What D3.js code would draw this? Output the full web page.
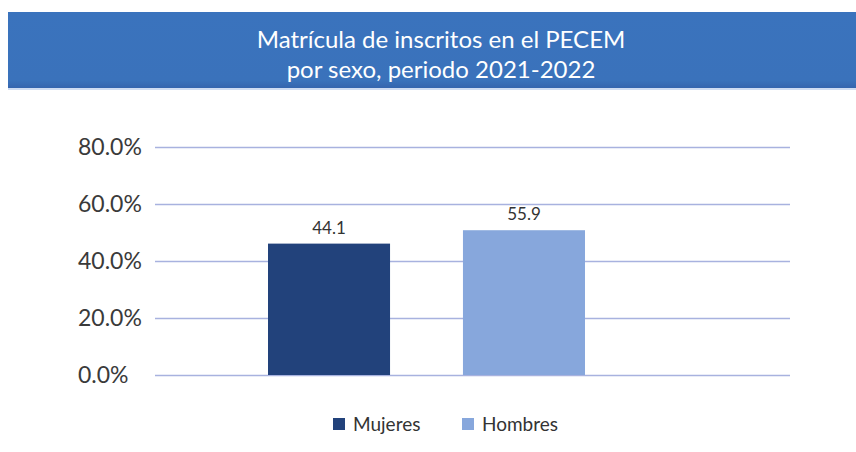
<!DOCTYPE html>
<html>
<head>
<meta charset="utf-8">
<script src="https://cdn.jsdelivr.net/npm/d3@7/dist/d3.min.js"></script>
<style>
  html, body { margin: 0; padding: 0; background: #fff; }
  svg { display: block; }
</style>
</head>
<body>
<svg id="chart" width="856" height="452"></svg>
<script>
// data
const categories = ['Mujeres', 'Hombres'];
const barHeights = [46.1, 50.8];      // bar tops as drawn in the source
const labelValues = ['44.1', '55.9']; // printed data labels
const yTicks = [0, 20, 40, 60, 80];
const titleLines = ['Matrícula de inscritos en el PECEM', 'por sexo, periodo 2021-2022'];
const colors = ['#22427b', '#87a7dc'];

const svg = d3.select('#chart');
const font = 'Lato, "Open Sans", sans-serif';

// title band
const grad = svg.append('defs').append('linearGradient')
    .attr('id', 'band').attr('x1', 0).attr('y1', 0).attr('x2', 0).attr('y2', 1);
grad.append('stop').attr('offset', '0%').attr('stop-color', '#3a73bd');
grad.append('stop').attr('offset', '90%').attr('stop-color', '#3a72bb');
grad.append('stop').attr('offset', '100%').attr('stop-color', '#3565ae');

svg.append('rect')
    .attr('x', 8).attr('y', 12)
    .attr('width', 848).attr('height', 76)
    .attr('fill', 'url(#band)');
svg.append('rect')
    .attr('x', 8).attr('y', 88)
    .attr('width', 848).attr('height', 2)
    .attr('fill', '#cfdcf2');

svg.selectAll('text.title').data(titleLines).enter()
    .append('text')
    .attr('class', 'title')
    .attr('x', 441)
    .attr('y', (d, i) => 48 + i * 30)
    .attr('text-anchor', 'middle')
    .attr('fill', '#ffffff')
    .style('font-family', font)
    .style('font-size', '24px')
    .text(d => d);

// scales
const plot = { left: 155, right: 790, top: 147, bottom: 375 };
const y = d3.scaleLinear().domain([0, 80]).range([plot.bottom, plot.top]);
const x = d3.scaleBand().domain(categories)
    .range([268, 585])
    .paddingInner(0.374).paddingOuter(0);

// gridlines
const yAxis = d3.axisLeft(y)
    .tickValues(yTicks)
    .tickSize(-(plot.right - plot.left))
    .tickFormat(d => d3.format('.1f')(d) + '%');

const gy = svg.append('g')
    .attr('transform', 'translate(' + plot.left + ',0)')
    .call(yAxis);
gy.select('.domain').remove();
gy.selectAll('.tick line').attr('stroke', '#a8b2df').attr('stroke-width', 1.3);
gy.selectAll('.tick text')
    .attr('x', 78 - plot.left)
    .attr('text-anchor', 'start')
    .attr('dy', '0.32em')
    .attr('fill', '#3a3a3a')
    .style('font-family', font)
    .style('font-size', '23px');

// bars
svg.selectAll('rect.bar').data(categories).enter()
    .append('rect')
    .attr('class', 'bar')
    .attr('x', d => x(d))
    .attr('width', x.bandwidth())
    .attr('y', (d, i) => y(barHeights[i]))
    .attr('height', (d, i) => y(0) - y(barHeights[i]))
    .attr('fill', (d, i) => colors[i]);

// data labels
svg.selectAll('text.lbl').data(categories).enter()
    .append('text')
    .attr('class', 'lbl')
    .attr('x', d => x(d) + x.bandwidth() / 2)
    .attr('y', (d, i) => y(barHeights[i]) - 10)
    .attr('text-anchor', 'middle')
    .attr('fill', '#333')
    .style('font-family', font)
    .style('font-size', '17px')
    .text((d, i) => labelValues[i]);

// legend
const legendX = [333, 462];
const lg = svg.selectAll('g.leg').data(categories).enter()
    .append('g')
    .attr('class', 'leg')
    .attr('transform', (d, i) => 'translate(' + legendX[i] + ',418)');
lg.append('rect')
    .attr('width', 12).attr('height', 12)
    .attr('fill', (d, i) => colors[i]);
lg.append('text')
    .attr('x', 20).attr('y', 6)
    .attr('dy', '0.35em')
    .attr('fill', '#333')
    .style('font-family', font)
    .style('font-size', '19px')
    .text(d => d);
</script>
</body>
</html>
